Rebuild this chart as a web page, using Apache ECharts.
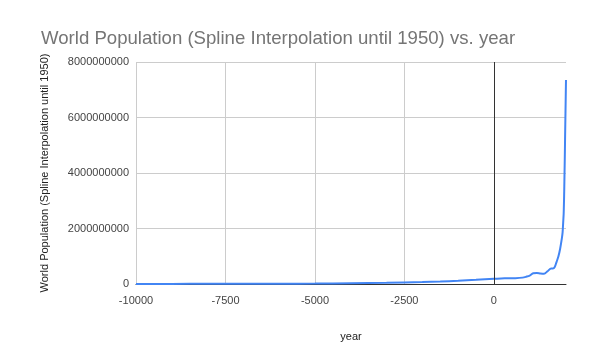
<!DOCTYPE html>
<html><head><meta charset="utf-8">
<script src="https://cdn.jsdelivr.net/npm/echarts@6/dist/echarts.min.js"></script>
<style>html,body{margin:0;padding:0;background:#fff}#c{width:605px;height:355px}</style>
</head><body><div id="c"></div>
<script>
const years = [-10000,-9000,-8000,-7000,-6000,-5000,-4000,-3000,-2000,-1500,-1000,-500,0,200,400,600,800,900,1000,1100,1200,1300,1400,1500,1600,1650,1700,1750,1800,1850,1900,1920,1930,1940,1950,1955,1960,1965,1970,1975,1980,1985,1990,1995,2000,2005,2010,2015];
const population = [4e6,4.5e6,5e6,7e6,10e6,15e6,28e6,45e6,72e6,90e6,115e6,150e6,190e6,200e6,205e6,210e6,230e6,260e6,300e6,390e6,400e6,380e6,370e6,460e6,560e6,560e6,610e6,790e6,980e6,1.26e9,1.65e9,1.86e9,2.07e9,2.30e9,2.53e9,2.77e9,3.03e9,3.34e9,3.70e9,4.08e9,4.45e9,4.87e9,5.33e9,5.74e9,6.14e9,6.54e9,6.96e9,7.35e9];
const xTicks = {min:-10000, max:2015, step:2500};
const yTicks = {min:0, max:8000000000, step:2000000000};
const titleText = 'World Population (Spline Interpolation until 1950) vs. year';
const xName = 'year';
const yName = 'World Population (Spline Interpolation until 1950)';

const chart = echarts.init(document.getElementById('c'), null, {renderer:'canvas'});
const font = 'Liberation Sans, Arial, sans-serif';
chart.setOption({
  animation:false,
  title:{text:titleText,left:36,top:24,textStyle:{fontFamily:font,fontSize:18.6,fontWeight:'normal',color:'#757575'}},
  grid:{left:136,right:39,top:62,bottom:71,containLabel:false},
  xAxis:{type:'value',min:xTicks.min,max:xTicks.max,interval:xTicks.step,
    name:xName,nameLocation:'middle',nameGap:47,nameTextStyle:{fontFamily:font,fontSize:11,color:'#222'},
    axisLine:{show:true,lineStyle:{color:'#333',width:1}},axisTick:{show:false},
    axisLabel:{fontFamily:font,fontSize:11,color:'#444',margin:11,showMaxLabel:false,formatter:v=>String(v)},
    splitLine:{show:true,showMaxLine:false,lineStyle:{color:'#ccc',width:1}}},
  yAxis:{type:'value',min:yTicks.min,max:yTicks.max,interval:yTicks.step,
    name:yName,nameLocation:'middle',nameGap:86,nameTextStyle:{fontFamily:font,fontSize:11,color:'#222'},
    axisLine:{show:false},axisTick:{show:false},
    axisLabel:{fontFamily:font,fontSize:11,color:'#444',margin:7,formatter:v=>String(v)},
    splitLine:{show:true,lineStyle:{color:'#ccc',width:1}}},
  series:[{type:'line',data:years.map((y,i)=>[y,population[i]]),showSymbol:false,smooth:0.3,
    lineStyle:{color:'#4285F4',width:2},itemStyle:{color:'#4285F4'},
    markLine:{silent:true,symbol:'none',label:{show:false},lineStyle:{color:'#333',width:1,type:'solid'},data:[{xAxis:0}]}}]
});
</script></body></html>
